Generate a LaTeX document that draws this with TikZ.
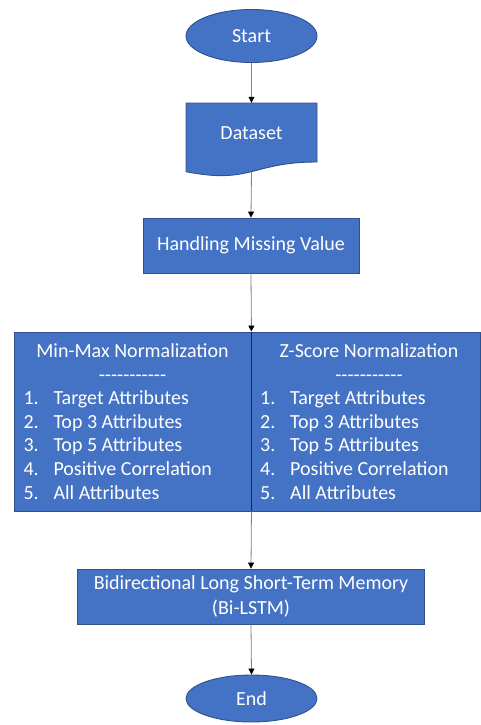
\documentclass[tikz,border=0pt]{standalone}
\usepackage{fontspec}
\setmainfont{Carlito}
\usetikzlibrary{arrows.meta,shapes.geometric}
\definecolor{boxfill}{HTML}{4472C4}
\definecolor{boxline}{HTML}{2F528F}
\definecolor{conn}{HTML}{808080}
\newcommand{\dashrule}{-{}-{}-{}-{}-{}-{}-{}-{}-{}-{}-}
\begin{document}
\begin{tikzpicture}[x=1pt,y=-1pt,
  fcbox/.style={fill=boxfill,draw=boxline,line width=0.9pt,text=white,
    font=\fontsize{20}{25}\selectfont,inner sep=0pt,align=center},
  fctext/.style={text=white,font=\fontsize{20}{24}\selectfont,inner sep=0pt},
  conn/.style={draw=conn,line width=0.8pt,-{Triangle[width=6pt,length=6pt,color=black]}}]
\useasboundingbox (0,0) rectangle (481,725);

% Start
\node[fcbox,ellipse,minimum width=131pt,minimum height=53pt] (start) at (251.5,36) {Start};

% Dataset (document shape)
\filldraw[fill=boxfill,draw=boxline,line width=0.9pt]
  (186,103) -- (317,103) -- (317,162) .. controls (251.5,162) and (251.5,184.5) .. (186,171.7) -- cycle;
\node[fctext,minimum width=131pt,minimum height=60pt] (dataset) at (251.5,133) {Dataset};
\coordinate (dsbot) at (251.5,171.7);

% Handling Missing Value
\node[fcbox,minimum width=216pt,minimum height=55pt] (handling) at (251,245.5) {Handling Missing Value};

% Normalization boxes
\node[fcbox,minimum width=237pt,minimum height=179pt] (minmax) at (132.5,421.5) {};
\node[fcbox,minimum width=229pt,minimum height=179pt] (zscore) at (365.5,421.5) {};
\draw[black!85,line width=0.7pt] (minmax.north east) -- (minmax.south east);

\node[fctext,anchor=base] (mmtitle) at (132.5,357.5) {Min-Max Normalization};
\node[fctext,anchor=base] (mmdash) at (132.5,381.1) {\dashrule};
\node[fctext,anchor=base] (zstitle) at (369,357.5) {Z-Score Normalization};
\node[fctext,anchor=base] (zsdash) at (369,381.1) {\dashrule};
\foreach \i/\t in {1/Target Attributes,2/Top 3 Attributes,3/Top 5 Attributes,4/Positive Correlation,5/All Attributes}{
  \node[fctext,anchor=base west] (mmn\i) at (23.3,{381.1+23.6*\i}) {\i.};
  \node[fctext,anchor=base west] (mmt\i) at (53.3,{381.1+23.6*\i}) {\t};
  \node[fctext,anchor=base west] (zsn\i) at (260,{381.1+23.6*\i}) {\i.};
  \node[fctext,anchor=base west] (zst\i) at (290,{381.1+23.6*\i}) {\t};
}

% Bi-LSTM
\node[fcbox,minimum width=347pt,minimum height=55pt] (bilstm) at (251,596.5)
  {Bidirectional Long Short-Term Memory\\(Bi-LSTM)};

% End
\node[fcbox,ellipse,minimum width=131pt,minimum height=47pt] (end) at (251.5,698.5) {End};

% Connectors
\draw[conn] (start.south) -- (dataset.north);
\draw[conn] (dsbot) -- (handling.north);
\draw[conn] (handling.south) -- (minmax.north east);
\draw[conn] (minmax.south east) -- (bilstm.north);
\draw[conn] (bilstm.south) -- (end.north);
\end{tikzpicture}
\end{document}
